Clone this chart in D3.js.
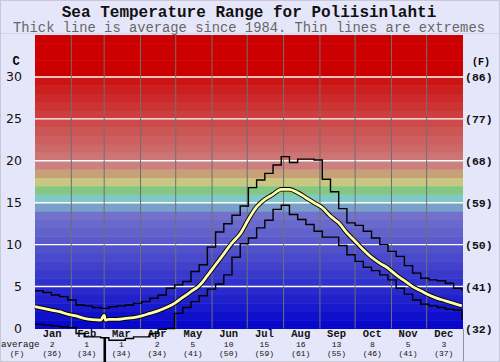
<!DOCTYPE html>
<html>
<head>
<meta charset="utf-8">
<script src="https://cdn.jsdelivr.net/npm/d3@7"></script>
<style>
  body { margin: 0; background: #E6E6FA; }
  svg { display: block; }
</style>
</head>
<body>
<script>
let w = 500
let h = 362

let months = ["Jan","Feb","Mar","Apr","May","Jun","Jul","Aug","Sep","Oct","Nov","Dec"]
let monthDays = [31,28,31,30,31,30,31,31,30,31,30,31]
let monthAvgC = [2,1,1,2,5,10,15,16,13,8,5,3]
let monthAvgF = [36,34,34,34,41,50,59,61,55,46,41,37]

let ticksC = [0,5,10,15,20,25,30]
let ticksF = [32,41,50,59,68,77,86]

// one value per week (day 0, 7, 14 ... 364)
let weekMax = [4.5,4.3,4.0,3.8,3.4,2.8,2.7,2.5,2.4,2.6,2.7,2.8,3.0,3.2,3.6,4.0,4.8,5.2,5.6,6.8,7.6,9.7,11.5,12.5,13.5,14.6,16.8,17.7,18.5,19.5,20.5,19.8,20.2,20.2,20.1,17.8,16.3,14.3,12.6,12.3,11.6,10.8,10.0,9.2,8.6,7.5,6.6,6.0,5.8,5.7,5.4,4.8,4.5]
let weekAvg = [2.6,2.4,2.2,2.0,1.7,1.5,1.2,1.05,1.0,1.1,1.1,1.2,1.3,1.5,1.8,2.1,2.5,3.0,3.7,4.4,5.1,6.3,7.6,8.9,10.2,11.3,13.0,14.5,15.4,16.0,16.6,16.6,16.2,15.6,15.0,14.4,13.4,12.6,11.4,10.4,9.4,8.5,7.8,7.2,6.4,5.7,5.0,4.5,4.0,3.6,3.3,3.0,2.7]
let weekMin = [0.5,0.4,0.3,0.2,0.1,-0.6,-1.0,-1.0,-1.1,-1.4,-1.4,-1.2,-1.0,-1.0,-0.6,-0.1,0.0,1.8,2.5,3.2,3.9,4.7,5.3,6.4,8.5,10.1,10.8,12.0,12.9,14.2,14.7,13.6,13.0,12.4,11.6,10.9,10.9,9.9,8.8,8.0,7.3,6.9,6.4,5.8,4.8,4.1,3.4,2.9,2.7,2.5,2.3,2.2,1.0]

// the odd 29 Feb spike
let spikeDay = 59
let spikeMin = -4.5
let spikeAvg = 1.6

let plotLeft = 35
let plotRight = 463
let plotTop = 35
let plotBottom = 328.5

let svg = d3.select("body").append("svg")
  .attr("width", w)
  .attr("height", h)

svg.append("rect")
  .attr("width", w).attr("height", h)
  .attr("fill", "#E6E6FA")

let xScale = d3.scaleLinear().domain([0, 365]).range([plotLeft, plotRight])
let yScale = d3.scaleLinear().domain([0, 35]).range([plotBottom, plotTop])
let yScaleF = d3.scaleLinear().domain([32, 95]).range([plotBottom, plotTop])

// colour of each 1 degree band
let bandColor = d3.scaleLinear()
  .domain([0, 13, 14, 15, 16, 17, 18, 19, 29, 30])
  .range(["#0808CC","#7272CC","#78A0C8","#80C8C8","#82C882","#C8C882","#C8A078","#CC8080","#CC1414","#CC0000"])
  .clamp(true)

svg.append("g").selectAll("rect")
  .data(d3.range(0, 35))
  .enter().append("rect")
  .attr("x", plotLeft)
  .attr("width", plotRight - plotLeft)
  .attr("y", (t)=>yScale(t + 1))
  .attr("height", (t)=>yScale(t) - yScale(t + 1) + 0.5)
  .attr("fill", (t)=>bandColor(t))

// white lines every 5 degrees
svg.append("g").selectAll("line")
  .data(ticksC.filter((t)=>t > 0))
  .enter().append("line")
  .attr("x1", plotLeft).attr("x2", plotRight)
  .attr("y1", (t)=>yScale(t)).attr("y2", (t)=>yScale(t))
  .attr("stroke", "white")
  .attr("stroke-width", 1.4)

// month boundaries
let starts = []
let acc = 0
monthDays.forEach((d)=>{ starts.push(acc); acc += d })

svg.append("g").selectAll("line")
  .data(starts.slice(1))
  .enter().append("line")
  .attr("x1", (d)=>xScale(d)).attr("x2", (d)=>xScale(d))
  .attr("y1", plotTop).attr("y2", plotBottom)
  .attr("stroke", "#707070")
  .attr("stroke-width", 1)

svg.append("line")
  .attr("x1", plotRight + 0.5).attr("x2", plotRight + 0.5)
  .attr("y1", plotBottom).attr("y2", h)
  .attr("stroke", "#9090a0")

svg.append("line")
  .attr("x1", 0).attr("x2", w)
  .attr("y1", 33.5).attr("y2", 33.5)
  .attr("stroke", "#d4d4e4")

svg.append("rect")
  .attr("x", 0.5).attr("y", 0.5)
  .attr("width", w - 1).attr("height", h - 1)
  .attr("fill", "none")
  .attr("stroke", "#c8c8d8")

// titles
svg.append("text")
  .text("Sea Temperature Range for Poliisinlahti")
  .attr("x", 249).attr("y", 17)
  .attr("text-anchor", "middle")
  .style("font-family", "'Liberation Mono', monospace")
  .style("font-weight", "bold")
  .style("font-size", "16px")
  .attr("fill", "#111")

svg.append("text")
  .text("Thick line is average since 1984. Thin lines are extremes")
  .attr("x", 249).attr("y", 31.5)
  .attr("text-anchor", "middle")
  .style("font-family", "'Liberation Mono', monospace")
  .style("font-size", "13.8px")
  .attr("fill", "#666")

// axes
let yAxis = d3.axisLeft(yScale).tickValues(ticksC).tickSize(0).tickPadding(13)
let gy = svg.append("g")
  .attr("transform", "translate(" + plotLeft + ",0)")
  .call(yAxis)
gy.select(".domain").remove()
gy.selectAll("text")
  .style("font-family", "'DejaVu Sans', sans-serif")
  .style("font-size", "12.5px")
  .attr("fill", "#111")

let yAxisF = d3.axisRight(yScaleF).tickValues(ticksF).tickSize(0).tickPadding(2)
  .tickFormat((d)=>"(" + d + ")")
let gf = svg.append("g")
  .attr("transform", "translate(" + plotRight + ",0)")
  .call(yAxisF)
gf.select(".domain").remove()
gf.selectAll("text")
  .style("font-family", "'Liberation Mono', monospace")
  .style("font-weight", "bold")
  .style("font-size", "11.5px")
  .attr("fill", "#111")

svg.append("text").text("C")
  .attr("x", 16).attr("y", 65)
  .attr("text-anchor", "middle")
  .style("font-family", "'Liberation Mono', monospace")
  .style("font-weight", "bold")
  .style("font-size", "12px")

svg.append("text").text("(F)")
  .attr("x", 481).attr("y", 65)
  .attr("text-anchor", "middle")
  .style("font-family", "'Liberation Mono', monospace")
  .style("font-weight", "bold")
  .style("font-size", "10px")

// month labels underneath
let labels = svg.append("g")
  .style("font-family", "'Liberation Mono', monospace")
  .attr("text-anchor", "middle")
  .attr("fill", "#111")

months.forEach((m, i)=>{
  let cx = xScale(starts[i] + monthDays[i] / 2) - 1
  labels.append("text").text(m)
    .attr("x", cx).attr("y", 337)
    .style("font-weight", "bold")
    .style("font-size", "10.5px")
  labels.append("text").text(monthAvgC[i])
    .attr("x", cx).attr("y", 347)
    .style("font-size", "8px")
  labels.append("text").text("(" + monthAvgF[i] + ")")
    .attr("x", cx).attr("y", 356.2)
    .style("font-size", "8px")
})

labels.append("text").text("average")
  .attr("x", 1).attr("y", 346.5)
  .attr("text-anchor", "start")
  .style("font-size", "9.2px")
labels.append("text").text("(F)")
  .attr("x", 17).attr("y", 356.2)
  .style("font-size", "8px")

// lines
let toPoints = (arr, spike)=>{
  let pts = arr.map((v, i)=>({day: i * 7, v: v}))
  if (spike != null) {
    let i = pts.findIndex((p)=>p.day > spikeDay)
    pts.splice(i, 0, {day: spikeDay, v: spike}, {day: spikeDay + 1, v: arr[i - 1]})
  }
  return pts
}

let stepLine = d3.line()
  .x((p)=>xScale(p.day))
  .y((p)=>yScale(p.v))
  .curve(d3.curveStepAfter)

let smoothLine = d3.line()
  .x((p)=>xScale(p.day))
  .y((p)=>yScale(p.v))
  .curve(d3.curveMonotoneX)

svg.append("path")
  .attr("d", stepLine(toPoints(weekMax, null)))
  .attr("fill", "none")
  .attr("stroke", "#000")
  .attr("stroke-width", 1.4)

svg.append("path")
  .attr("d", stepLine(toPoints(weekMin, spikeMin)))
  .attr("fill", "none")
  .attr("stroke", "#000")
  .attr("stroke-width", 1.4)

let avgPts = toPoints(weekAvg, spikeAvg)
svg.append("path")
  .attr("d", smoothLine(avgPts))
  .attr("fill", "none")
  .attr("stroke", "#000")
  .attr("stroke-width", 4.6)

svg.append("path")
  .attr("d", smoothLine(avgPts))
  .attr("fill", "none")
  .attr("stroke", "#FFFFA8")
  .attr("stroke-width", 2.8)
</script>
</body>
</html>
